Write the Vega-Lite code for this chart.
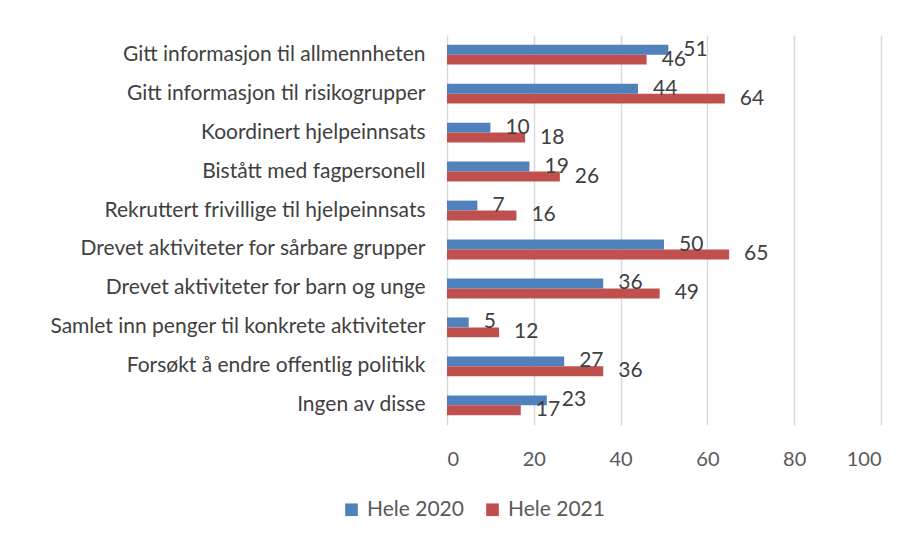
{
  "$schema": "https://vega.github.io/schema/vega-lite/v6.json",
  "width": 434,
  "height": 390,
  "autosize": {"type": "none"},
  "padding": {"left": 447, "top": 35, "right": 41, "bottom": 120},
  "background": "white",
  "config": {
    "font": "Lato",
    "view": {"stroke": null}
  },
  "data": {
    "values": [
      {"kategori": "Gitt informasjon til allmennheten", "serie": "Hele 2020", "verdi": 51},
      {"kategori": "Gitt informasjon til allmennheten", "serie": "Hele 2021", "verdi": 46},
      {"kategori": "Gitt informasjon til risikogrupper", "serie": "Hele 2020", "verdi": 44},
      {"kategori": "Gitt informasjon til risikogrupper", "serie": "Hele 2021", "verdi": 64},
      {"kategori": "Koordinert hjelpeinnsats", "serie": "Hele 2020", "verdi": 10},
      {"kategori": "Koordinert hjelpeinnsats", "serie": "Hele 2021", "verdi": 18},
      {"kategori": "Bistått med fagpersonell", "serie": "Hele 2020", "verdi": 19},
      {"kategori": "Bistått med fagpersonell", "serie": "Hele 2021", "verdi": 26},
      {"kategori": "Rekruttert frivillige til hjelpeinnsats", "serie": "Hele 2020", "verdi": 7},
      {"kategori": "Rekruttert frivillige til hjelpeinnsats", "serie": "Hele 2021", "verdi": 16},
      {"kategori": "Drevet aktiviteter for sårbare grupper", "serie": "Hele 2020", "verdi": 50},
      {"kategori": "Drevet aktiviteter for sårbare grupper", "serie": "Hele 2021", "verdi": 65},
      {"kategori": "Drevet aktiviteter for barn og unge", "serie": "Hele 2020", "verdi": 36},
      {"kategori": "Drevet aktiviteter for barn og unge", "serie": "Hele 2021", "verdi": 49},
      {"kategori": "Samlet inn penger til konkrete aktiviteter", "serie": "Hele 2020", "verdi": 5},
      {"kategori": "Samlet inn penger til konkrete aktiviteter", "serie": "Hele 2021", "verdi": 12},
      {"kategori": "Forsøkt å endre offentlig politikk", "serie": "Hele 2020", "verdi": 27},
      {"kategori": "Forsøkt å endre offentlig politikk", "serie": "Hele 2021", "verdi": 36},
      {"kategori": "Ingen av disse", "serie": "Hele 2020", "verdi": 23},
      {"kategori": "Ingen av disse", "serie": "Hele 2021", "verdi": 17}
    ]
  },
  "encoding": {
    "y": {
      "field": "kategori",
      "type": "nominal",
      "sort": null,
      "scale": {"paddingInner": 0.49, "paddingOuter": 0.25},
      "axis": {
        "title": null,
        "domain": false,
        "ticks": false,
        "labelFontSize": 21,
        "labelColor": "#404040",
        "labelPadding": 22,
        "labelLimit": 420
      }
    },
    "yOffset": {"field": "serie", "type": "nominal", "sort": ["Hele 2020", "Hele 2021"]},
    "x": {
      "field": "verdi",
      "type": "quantitative",
      "scale": {"domain": [0, 100], "nice": false},
      "axis": {
        "title": null,
        "values": [0, 20, 40, 60, 80, 100],
        "domain": false,
        "ticks": false,
        "grid": true,
        "gridColor": "#d9d9d9",
        "gridWidth": 1.5,
        "labelFontSize": 20,
        "labelColor": "#595959",
        "labelPadding": 24
      }
    }
  },
  "layer": [
    {
      "mark": {"type": "bar"},
      "encoding": {
        "color": {
          "field": "serie",
          "type": "nominal",
          "scale": {"domain": ["Hele 2020", "Hele 2021"], "range": ["#4f81bd", "#c0504d"]},
          "legend": {
            "title": null,
            "orient": "none",
            "direction": "horizontal",
            "legendX": -106,
            "legendY": 464,
            "symbolType": "square",
            "symbolSize": 160,
            "symbolStrokeWidth": 0,
            "labelFontSize": 21,
            "labelColor": "#595959",
            "columnPadding": 18,
            "labelOffset": 5
          }
        }
      }
    },
    {
      "mark": {"type": "text", "align": "left", "baseline": "middle", "dx": 15, "fontSize": 21, "color": "#404040"},
      "encoding": {
        "text": {"field": "verdi", "type": "quantitative"}
      }
    }
  ]
}
